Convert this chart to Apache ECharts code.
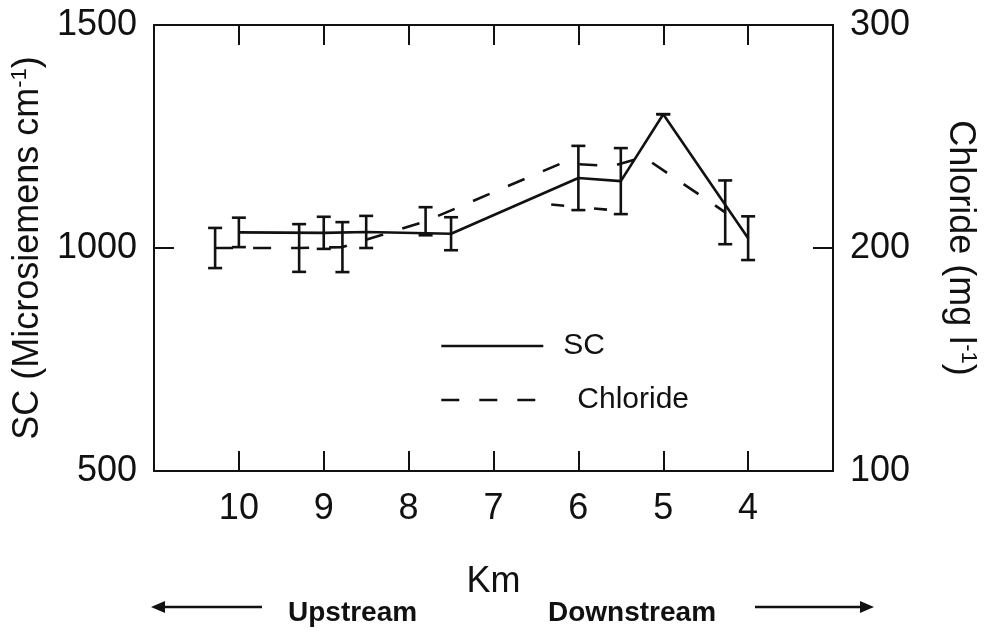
<!DOCTYPE html>
<html>
<head>
<meta charset="utf-8">
<script src="https://cdn.jsdelivr.net/npm/echarts@6/dist/echarts.min.js"></script>
<style>
  html, body { margin: 0; padding: 0; background: #fff; }
  #chart { width: 985px; height: 631px; }
</style>
</head>
<body>
<div id="chart"></div>
<script>
// ---- Data ----
const kmTicks = [10, 9, 8, 7, 6, 5, 4];

const scKm    = [10, 9, 8.5, 7.5, 6, 5.5, 5, 4];
const scValue = [1035, 1034, 1036, 1032, 1157, 1150, 1300, 1022];
const scErr   = [33, 36, 36, 37, 72, 74, 0, 49];

const clKm    = [10.28, 9.29, 8.78, 7.8, 6.2, 5.6, 5.23, 4.27];
const clValue = [200, 200, 200.4, 212, 238, 236.7, 240.8, 216];
const clErr   = [9, 10.7, 11.2, 6.3, null, null, null, 14.3];

const clLowerKm    = [6.32, 5.6];
const clLowerValue = [219.5, 217];

// ---- Build series data ----
const scLine = scKm.map((k, i) => [k, scValue[i]]);
const scBars = scKm.map((k, i) => [k, scValue[i] - scErr[i], scValue[i] + scErr[i]]);
const clLine = clKm.map((k, i) => [k, clValue[i]]);
const clBars = clKm.map((k, i) => clErr[i] == null ? null : [k, clValue[i] - clErr[i], clValue[i] + clErr[i]]).filter(d => d);
const clLower = clLowerKm.map((k, i) => [k, clLowerValue[i]]);

const FONT = "'Liberation Sans', Arial, Helvetica, sans-serif";
const BLACK = '#111';

function errorBarRender(params, api) {
  const x = api.value(0), lo = api.value(1), hi = api.value(2);
  const pTop = api.coord([x, hi]);
  const pBot = api.coord([x, lo]);
  const cap = 7;
  const style = { stroke: BLACK, lineWidth: 2.6 };
  return {
    type: 'group',
    children: [
      { type: 'line', shape: { x1: pTop[0], y1: pTop[1], x2: pBot[0], y2: pBot[1] }, style },
      { type: 'line', shape: { x1: pTop[0] - cap, y1: pTop[1], x2: pTop[0] + cap, y2: pTop[1] }, style },
      { type: 'line', shape: { x1: pBot[0] - cap, y1: pBot[1], x2: pBot[0] + cap, y2: pBot[1] }, style }
    ]
  };
}

const chart = echarts.init(document.getElementById('chart'), null, { renderer: 'canvas' });

const xAxisCommon = {
  type: 'value', min: 3, max: 11, interval: 1, inverse: true,
  axisLine: { show: true, onZero: false, lineStyle: { color: BLACK, width: 2 } },
  axisTick: { show: true, inside: true, length: 20, lineStyle: { color: BLACK, width: 2 } },
  splitLine: { show: false }
};
const yTickStyle = {
  axisLine: { show: true, lineStyle: { color: BLACK, width: 2 } },
  axisTick: { show: true, inside: true, length: 20, lineStyle: { color: BLACK, width: 2 } },
  splitLine: { show: false }
};

chart.setOption({
  animation: false,
  backgroundColor: '#fff',
  grid: { left: 154, right: 152, top: 25, bottom: 160, containLabel: false, outerBoundsMode: 'none' },
  xAxis: [
    Object.assign({}, xAxisCommon, {
      position: 'bottom',
      name: 'Km', nameLocation: 'middle', nameGap: 93,
      nameTextStyle: { fontFamily: FONT, fontSize: 36, color: BLACK },
      axisLabel: {
        margin: 20, fontFamily: FONT, fontSize: 36, color: BLACK,
        formatter: v => (kmTicks.indexOf(v) >= 0 ? String(v) : '')
      }
    }),
    Object.assign({}, xAxisCommon, {
      position: 'top',
      axisLabel: { show: false }
    })
  ],
  yAxis: [
    Object.assign({
      type: 'value', min: 500, max: 1500, interval: 500, position: 'left',
      name: 'SC (Microsiemens cm{sup|-1})', nameLocation: 'middle', nameGap: 101, nameRotate: 90,
      nameTextStyle: {
        fontFamily: FONT, fontSize: 36, color: BLACK,
        rich: { sup: { fontFamily: FONT, fontSize: 22, color: BLACK, verticalAlign: 'top', padding: [0, 0, 16, 0] } }
      },
      axisLabel: { margin: 17, fontFamily: FONT, fontSize: 36, color: BLACK, formatter: v => String(v) }
    }, yTickStyle),
    Object.assign({
      type: 'value', min: 100, max: 300, interval: 100, position: 'right',
      name: 'Chloride (mg l{sup|-1})', nameLocation: 'middle', nameGap: 108, nameRotate: -90,
      nameTextStyle: {
        fontFamily: FONT, fontSize: 36, color: BLACK,
        rich: { sup: { fontFamily: FONT, fontSize: 22, color: BLACK, verticalAlign: 'top', padding: [0, 0, 16, 0] } }
      },
      axisLabel: { margin: 17, fontFamily: FONT, fontSize: 36, color: BLACK, formatter: v => String(v) }
    }, yTickStyle)
  ],
  legend: {
    orient: 'vertical', left: 435, top: 326,
    itemWidth: 102, itemHeight: 28, itemGap: 24,
    itemStyle: { opacity: 0 },
    lineStyle: { width: 2.6 },
    data: ['SC', 'Chloride'],
    textStyle: {
      fontFamily: FONT, fontSize: 30, color: BLACK,
      rich: {
        sc: { fontFamily: FONT, fontSize: 30, color: BLACK, padding: [0, 0, 0, 15] },
        cl: { fontFamily: FONT, fontSize: 30, color: BLACK, padding: [0, 0, 0, 29] }
      }
    },
    formatter: name => name === 'Chloride' ? '{cl|Chloride}' : '{sc|SC}'
  },
  series: [
    {
      name: 'SC', type: 'line', xAxisIndex: 0, yAxisIndex: 0,
      data: scLine, showSymbol: false, symbol: 'none',
      lineStyle: { color: BLACK, width: 2.6, type: 'solid' },
      itemStyle: { color: BLACK }
    },
    {
      name: 'Chloride', type: 'line', xAxisIndex: 0, yAxisIndex: 1,
      data: clLine, showSymbol: false, symbol: 'none',
      lineStyle: { color: BLACK, width: 2.6, type: [18, 20] },
      itemStyle: { color: BLACK }
    },
    {
      name: 'Chloride lower', type: 'line', xAxisIndex: 0, yAxisIndex: 1,
      data: clLower, showSymbol: false, symbol: 'none',
      lineStyle: { color: BLACK, width: 2.6, type: [13, 30] }
    },
    {
      name: 'SC error', type: 'custom', xAxisIndex: 0, yAxisIndex: 0,
      renderItem: errorBarRender, data: scBars, z: 3
    },
    {
      name: 'Chloride error', type: 'custom', xAxisIndex: 0, yAxisIndex: 1,
      renderItem: errorBarRender, data: clBars, z: 3
    }
  ],
  graphic: [
    { type: 'line', shape: { x1: 160, y1: 607, x2: 262, y2: 607 }, style: { stroke: BLACK, lineWidth: 2.5 } },
    { type: 'polygon', shape: { points: [[151, 607], [165, 601], [165, 613]] }, style: { fill: BLACK } },
    { type: 'line', shape: { x1: 755, y1: 607, x2: 864, y2: 607 }, style: { stroke: BLACK, lineWidth: 2.5 } },
    { type: 'polygon', shape: { points: [[874, 607], [860, 601], [860, 613]] }, style: { fill: BLACK } },
    { type: 'text', left: 288, top: 599, style: { text: 'Upstream', font: 'bold 28px ' + FONT, fill: BLACK } },
    { type: 'text', left: 548, top: 599, style: { text: 'Downstream', font: 'bold 28px ' + FONT, fill: BLACK } }
  ]
});
</script>
</body>
</html>
